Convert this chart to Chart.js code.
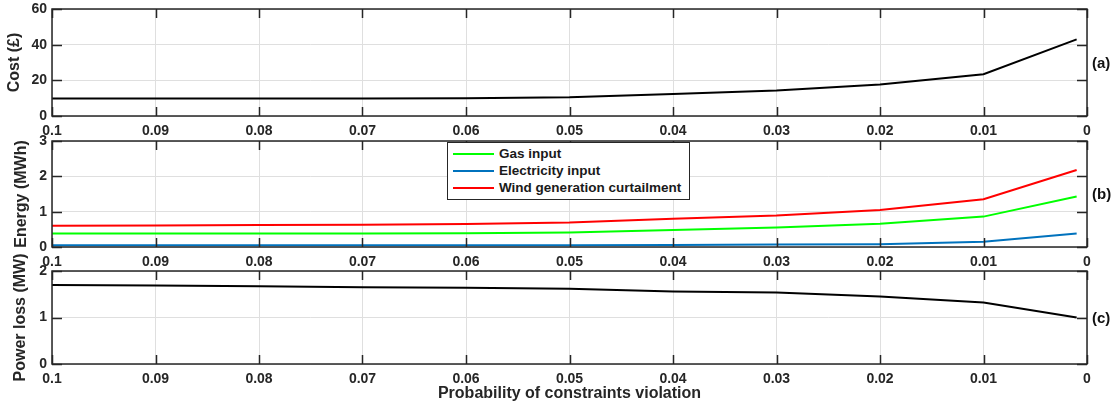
<!DOCTYPE html>
<html>
<head>
<meta charset="utf-8">
<script src="https://cdn.jsdelivr.net/npm/chart.js@4/dist/chart.umd.min.js"></script>
<style>
  body { margin: 0; background: #fff; }
  #wrap { position: relative; width: 1117px; height: 407px; overflow: hidden; font-family: "Liberation Sans", Arial, sans-serif; }
  canvas { position: absolute; left: 0; }
  #legend { position: absolute; left: 447px; top: 142px; width: 243px; height: 58px; border: 1px solid #262626; background: #fff; box-sizing: border-box; padding-top: 2px; }
  .row { height: 17px; line-height: 17px; font-weight: bold; font-size: 13.5px; color: #1a1a1a; white-space: nowrap; }
  .row span.ln { display: inline-block; width: 41px; height: 2px; margin: 0 5px 0 5px; vertical-align: middle; }
</style>
</head>
<body>
<div id="wrap">
  <canvas id="chartA" width="1117" height="148" style="top:-10px"></canvas>
  <canvas id="chartB" width="1117" height="160" style="top:108px"></canvas>
  <canvas id="chartC" width="1117" height="167" style="top:240px"></canvas>
  <div id="legend"></div>
</div>
<script>
// probability of constraints violation (x axis, reversed)
const probs = [0.1, 0.09, 0.08, 0.07, 0.06, 0.05, 0.04, 0.03, 0.02, 0.01, 0.001];
const xTicks = [0.1, 0.09, 0.08, 0.07, 0.06, 0.05, 0.04, 0.03, 0.02, 0.01, 0];

// (a) cost
const cost = [9.8, 9.8, 9.8, 9.8, 10.0, 10.5, 12.3, 14.3, 17.6, 23.4, 43.0];

// (b) energy
const gasInput = [0.38, 0.38, 0.38, 0.38, 0.39, 0.41, 0.48, 0.55, 0.66, 0.86, 1.43];
const elecInput = [0.05, 0.05, 0.05, 0.05, 0.05, 0.05, 0.06, 0.07, 0.08, 0.15, 0.38];
const windCurtail = [0.60, 0.61, 0.62, 0.63, 0.65, 0.69, 0.80, 0.89, 1.05, 1.35, 2.18];
const energyNames = ["Gas input", "Electricity input", "Wind generation curtailment"];
const energyColors = ["#00ff00", "#0072bd", "#ff0000"];

// (c) power loss
const powerLoss = [1.70, 1.69, 1.67, 1.65, 1.64, 1.62, 1.56, 1.54, 1.45, 1.32, 1.00];

const costTicks = [0, 20, 40, 60];
const energyTicks = [0, 1, 2, 3];
const lossTicks = [0, 1, 2];

const TXT = "#262626";
const FONT = "'Liberation Sans', Arial, sans-serif";

function pts(arr) {
    return probs.map((p, i) => ({ x: p, y: arr[i] }));
}

// box + inward tick marks + panel tag, MATLAB style
const framePlugin = {
    id: "frame",
    afterDraw(chart, args, opts) {
        const { ctx, chartArea: a, scales } = chart;
        const x = scales.x, y = scales.y;
        ctx.save();
        ctx.strokeStyle = TXT;
        ctx.lineWidth = 1.5;
        ctx.beginPath();
        x.ticks.forEach(t => {
            const px = Math.round(x.getPixelForValue(t.value)) + 0.5;
            ctx.moveTo(px, a.top); ctx.lineTo(px, a.top + 9);
            ctx.moveTo(px, a.bottom); ctx.lineTo(px, a.bottom - 9);
        });
        y.ticks.forEach(t => {
            const py = Math.round(y.getPixelForValue(t.value)) + 0.5;
            ctx.moveTo(a.left, py); ctx.lineTo(a.left + 10, py);
            ctx.moveTo(a.right, py); ctx.lineTo(a.right - 10, py);
        });
        ctx.stroke();
        ctx.strokeRect(a.left, a.top, a.width, a.height);
        ctx.fillStyle = "#111";
        ctx.font = "bold 15px " + FONT;
        ctx.textBaseline = "middle";
        ctx.textAlign = "left";
        ctx.fillText(opts.tag, a.right + 5, (a.top + a.bottom) / 2 + 1);
        ctx.restore();
    }
};

function makePanel(id, datasets, yTicks, yTitle, tag, padTop, xAxisH, yTitlePad, xTitle) {
    const ctx = document.getElementById(id).getContext("2d");
    return new Chart(ctx, {
        type: "line",
        data: { datasets: datasets },
        plugins: [framePlugin],
        options: {
            responsive: false,
            animation: false,
            layout: { padding: { top: padTop, right: 30, left: 0, bottom: 0 } },
            elements: { point: { radius: 0 }, line: { borderWidth: 2, tension: 0 } },
            plugins: {
                legend: { display: false },
                tooltip: { enabled: false },
                frame: { tag: tag }
            },
            scales: {
                x: {
                    type: "linear",
                    reverse: true,
                    min: 0,
                    max: 0.1,
                    afterBuildTicks(s) { s.ticks = xTicks.map(v => ({ value: v })); },
                    ticks: {
                        autoSkip: false,
                        maxRotation: 0,
                        padding: 7,
                        color: TXT,
                        font: { family: FONT, size: 14, weight: "bold" },
                        callback: v => String(+v.toFixed(2))
                    },
                    grid: { color: "#dfdfdf", lineWidth: 1, drawTicks: false },
                    border: { display: false },
                    title: {
                        display: !!xTitle,
                        text: xTitle || "",
                        color: TXT,
                        font: { family: FONT, size: 16, weight: "bold" },
                        padding: { top: 0, bottom: 4 }
                    },
                    afterFit(s) { s.height = xAxisH; }
                },
                y: {
                    min: yTicks[0],
                    max: yTicks[yTicks.length - 1],
                    afterBuildTicks(s) { s.ticks = yTicks.map(v => ({ value: v })); },
                    ticks: {
                        padding: 5,
                        color: TXT,
                        font: { family: FONT, size: 14, weight: "bold" }
                    },
                    grid: { color: "#dfdfdf", lineWidth: 1, drawTicks: false },
                    border: { display: false },
                    title: {
                        display: true,
                        text: yTitle,
                        color: TXT,
                        font: { family: FONT, size: 16, weight: "bold" },
                        padding: { top: yTitlePad, bottom: 0 }
                    },
                    afterFit(s) { s.width = 52; }
                }
            }
        }
    });
}

makePanel("chartA",
    [{ data: pts(cost), borderColor: "#000" }],
    costTicks, "Cost (£)", "(a)", 19, 22, 5);

makePanel("chartB",
    [
        { label: energyNames[0], data: pts(gasInput), borderColor: energyColors[0] },
        { label: energyNames[1], data: pts(elecInput), borderColor: energyColors[1] },
        { label: energyNames[2], data: pts(windCurtail), borderColor: energyColors[2] }
    ],
    energyTicks, "Energy (MWh)", "(b)", 33, 21, 12);

makePanel("chartC",
    [{ data: pts(powerLoss), borderColor: "#000" }],
    lossTicks, "Power loss (MW)", "(c)", 31, 43, 11, "Probability of constraints violation");

// legend for panel (b)
const legendEl = document.getElementById("legend");
energyNames.forEach((name, i) => {
    const row = document.createElement("div");
    row.className = "row";
    row.innerHTML = `<span class="ln" style="background:${energyColors[i]}"></span>${name}`;
    legendEl.appendChild(row);
});
</script>
</body>
</html>
